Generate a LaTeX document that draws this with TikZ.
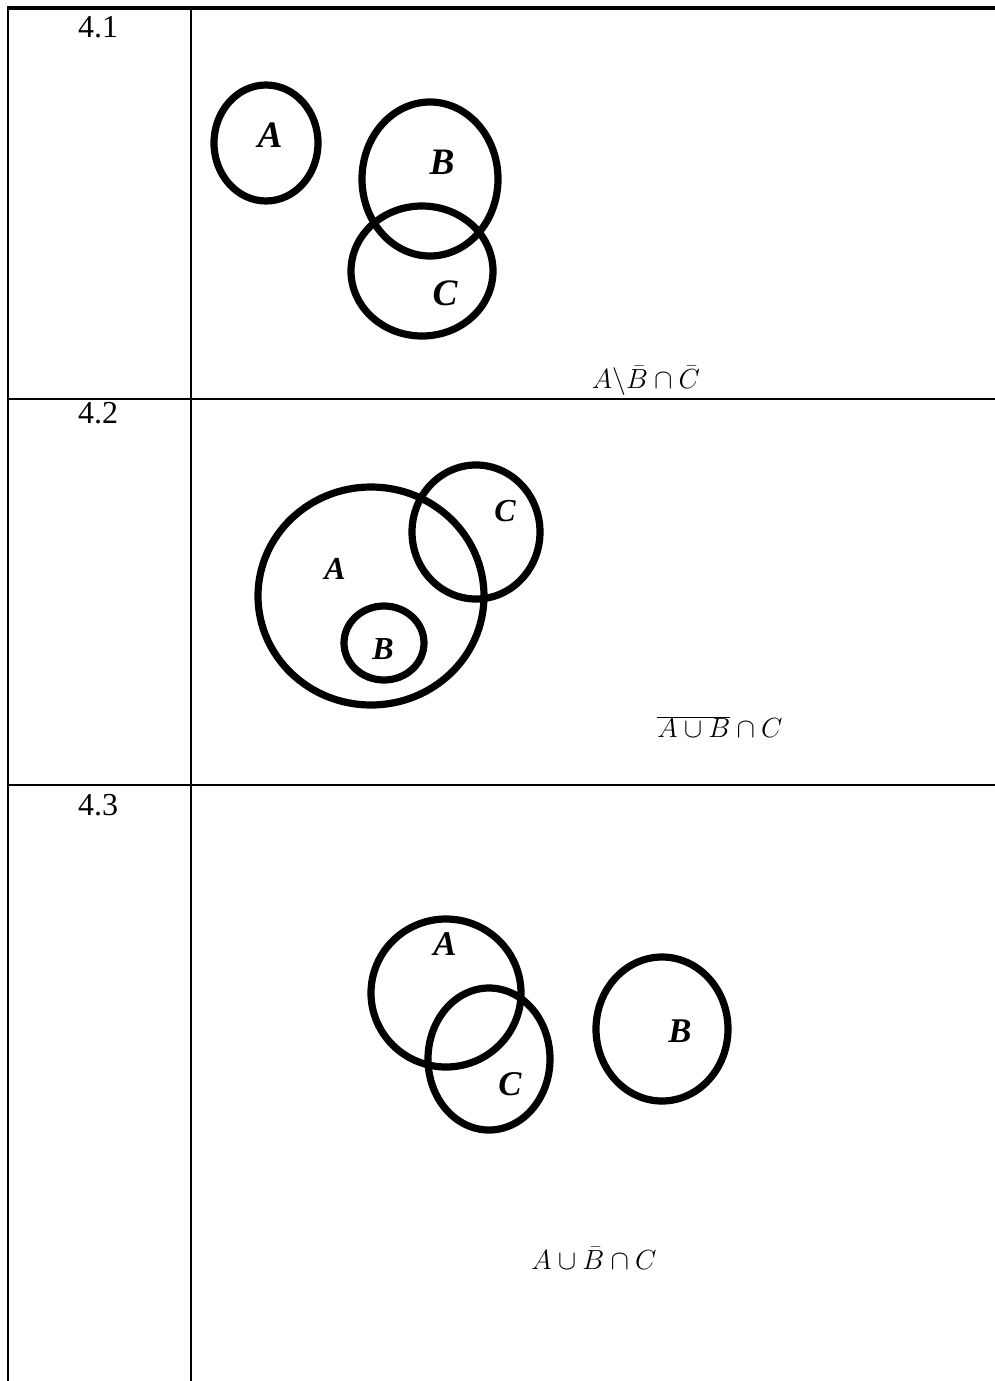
\documentclass[tikz,border=0pt]{standalone}
\usepackage{fontspec}
\setmainfont{Liberation Serif}
\tikzset{
  setline/.style={line width=5.4pt},
  gridline/.style={line width=1.6pt},
  setlabel/.style={font=\fontsize{28}{30}\selectfont\bfseries\itshape, inner sep=0pt},
  numlabel/.style={font=\fontsize{24}{26}\selectfont, inner sep=0pt},
  formula/.style={font=\fontsize{22}{26}\selectfont, inner sep=0pt}
}

\begin{document}
\begin{tikzpicture}[x=0.75pt,y=-0.75pt]
    \useasboundingbox (0,0) rectangle (995,1381);
    % Table
    \draw[line width=2.4pt] (7,8) -- (995,8);
    \draw[gridline] (8,8) -- (8,1381);
    \draw[gridline] (191,8) -- (191,1381);
    \draw[gridline] (7,399) -- (995,399);
    \draw[gridline] (7,785) -- (995,785);
    \node[numlabel] (num1) at (98,27) {4.1};
    \node[numlabel] (num2) at (98,413) {4.2};
    \node[numlabel] (num3) at (98,805) {4.3};
    % 4.1
    \draw[setline] (266,143) ellipse [x radius=52, y radius=58];
    \draw[setline] (430,179) ellipse [x radius=68, y radius=77];
    \draw[setline] (422,271) ellipse [x radius=71, y radius=65];
    \node[setlabel] (a1) at (270,135) {A};
    \node[setlabel] (b1) at (442,162) {B};
    \node[setlabel] (c1) at (445,293) {C};
    \node[formula] (f1) at (646,381) {$A\backslash\bar{B}\cap\bar{C}$};
    % 4.2
    \draw[setline] (371,596) ellipse [x radius=113, y radius=109];
    \draw[setline] (476,532) ellipse [x radius=64, y radius=67];
    \draw[setline] (384,643) ellipse [x radius=40, y radius=37];
    \node[setlabel, font=\fontsize{24}{26}\selectfont\bfseries\itshape] (a2) at (335,569) {A};
    \node[setlabel, font=\fontsize{24}{26}\selectfont\bfseries\itshape] (b2) at (383,649) {B};
    \node[setlabel, font=\fontsize{24}{26}\selectfont\bfseries\itshape] (c2) at (505,511) {C};
    \node[formula] (f2) at (720,727) {$\overline{A\cup B}\cap C$};
    % 4.3
    \draw[setline] (446,993) ellipse [x radius=75, y radius=74];
    \draw[setline] (489,1059) ellipse [x radius=61, y radius=71];
    \draw[setline] (662,1029) ellipse [x radius=66, y radius=72];
    \node[setlabel, font=\fontsize{26}{28}\selectfont\bfseries\itshape] (a3) at (445,944) {A};
    \node[setlabel, font=\fontsize{26}{28}\selectfont\bfseries\itshape] (c3) at (510,1084) {C};
    \node[setlabel, font=\fontsize{26}{28}\selectfont\bfseries\itshape] (b3) at (680,1031) {B};
    \node[formula] (f3) at (594,1258) {$A\cup\bar{B}\cap C$};
\end{tikzpicture}
\end{document}
